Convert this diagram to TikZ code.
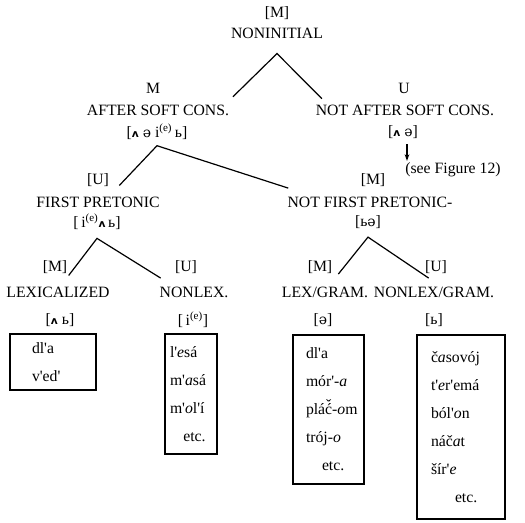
\documentclass[tikz,border=0pt]{standalone}
\usepackage{fontspec}
\setmainfont{Liberation Serif}[Ligatures=TeXOff]
\newfontfamily\ipafont{DejaVu Serif}
\newfontfamily\wedgefont{DejaVu Sans}
\usetikzlibrary{arrows.meta, positioning}

\newcommand{\wdg}{{\wedgefont\bfseries\fontsize{8}{8}\selectfont ʌ}}
\newcommand{\shwa}{{\ipafont\fontsize{10.5}{10}\selectfont ə}}
\newcommand{\sft}{ь}
\newcommand{\ivow}{i\textsuperscript{(e)}}
\newcommand{\cvac}{\ooalign{ć\cr\hidewidth\raisebox{0.6ex}{ˇ}\hidewidth\cr}}

\begin{document}
\begin{tikzpicture}[x=0.75pt, y=-0.75pt, line width=0.9pt,
  font=\fontsize{11.8}{14}\selectfont, >={Stealth[length=5pt, width=3.5pt]},
  lbl/.style={inner sep=1pt},
  wbox/.style={draw, align=left, inner ysep=0pt, font=\fontsize{11.8}{21}\selectfont}]
  \useasboundingbox (0,0) rectangle (525,522);
  % top level
  \node[lbl] (n0m) at (277,13) {[M]};
  \node[lbl] (n0)  at (277,33) {NONINITIAL};
  % after / not after soft consonant
  \node[lbl] (a1m) at (153,88)  {M};
  \node[lbl] (a1)  at (158,110) {AFTER SOFT CONS.};
  \node[lbl] (a1b) at (157,132) {[\wdg\ \shwa\ \ivow\,\sft]};
  \node[lbl] (b1m) at (404,88)  {U};
  \node[lbl] (b1)  at (405,110) {NOT AFTER SOFT CONS.};
  \node[lbl] (b1b) at (403,132) {[\wdg\ \shwa]};
  \node[lbl] (see) at (453,170) {(see Figure 12)};
  % pretonic
  \node[lbl] (a2m) at (98,180)  {[U]};
  \node[lbl] (a2)  at (98,202)  {FIRST PRETONIC};
  \node[lbl] (a2b) at (97,222)  {[\,\ivow\wdg\,\sft]};
  \node[lbl] (b2m) at (373,180) {[M]};
  \node[lbl] (b2)  at (370,202) {NOT FIRST PRETONIC-};
  \node[lbl] (b2b) at (368,222) {[\sft\shwa]};
  % lowest level
  \node[lbl] (c1m) at (55,267)  {[M]};
  \node[lbl] (c1)  at (58,292)  {LEXICALIZED};
  \node[lbl] (c1b) at (60,320)  {[\wdg\ \sft]};
  \node[lbl] (c2m) at (186,267) {[U]};
  \node[lbl] (c2)  at (194,292) {NONLEX.};
  \node[lbl] (c2b) at (193,320) {[\,\ivow]};
  \node[lbl] (d1m) at (320,267) {[M]};
  \node[lbl] (d1)  at (325,292) {LEX/GRAM.};
  \node[lbl] (d1b) at (323,320) {[\shwa]};
  \node[lbl] (d2m) at (436,267) {[U]};
  \node[lbl] (d2)  at (434,292) {NONLEX/GRAM.};
  \node[lbl] (d2b) at (434,320) {[\sft]};
  % word lists
  \node[wbox, text width=31.5pt, inner xsep=16.5pt, minimum height=42pt] (c1w) at (53,362)
    {dl'a\\v'ed'};
  \node[wbox, text width=31.5pt, inner xsep=3.75pt, minimum height=90pt] (c2w) at (191,394)
    {l'\textit{e}sá\\m'\textit{a}sá\\m'\textit{o}l'í\\\hspace*{10pt}etc.};
  \node[wbox, text width=33.75pt, inner xsep=9.75pt, minimum height=111.75pt] (d1w) at (328.5,409.5)
    {dl'a\\\mbox{mór'-\textit{a}}\\\mbox{plá\cvac-\textit{o}m}\\\mbox{trój-\textit{o}}\\\hspace*{12pt}etc.};
  \node[wbox, text width=45pt, inner xsep=10.5pt, minimum height=138pt] (d2w) at (461,427)
    {č\textit{a}sovój\\t'\textit{e}r'emá\\ból'\textit{o}n\\náč\textit{a}t\\šír'\textit{e}\\\hspace*{18pt}etc.};
  % junctions
  \coordinate (j0) at ([yshift=-10pt]n0.south);
  \coordinate (j1) at ([yshift=-3pt]a1b.south);
  \coordinate (j2) at ([yshift=-5pt]a2b.south);
  \coordinate (j3) at ([yshift=-5pt]b2b.south);
  % branches
  \draw ([shift={(1.5pt,4.5pt)}]a1.north east) -- (j0) -- ([shift={(6pt,3pt)}]b1.north west);
  \draw ([shift={(16pt,7pt)}]a2.north) -- (j1) -- ([shift={(2pt,5pt)}]b2.north west);
  \draw ([shift={(8pt,7pt)}]c1.north) -- (j2) -- ([shift={(-25pt,5pt)}]c2.north);
  \draw ([shift={(10pt,8pt)}]d1.north) -- (j3) -- ([shift={(-4pt,5pt)}]d2.north);
  \draw[->, line width=0.8pt] ([xshift=3pt, yshift=-3pt]b1b.south) -- ([xshift=3pt]b1b.south |- see.north);
\end{tikzpicture}
\end{document}
